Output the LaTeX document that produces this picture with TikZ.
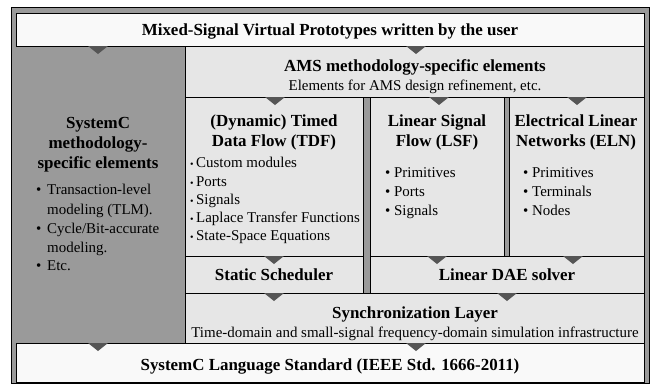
\documentclass[tikz,border=0pt]{standalone}
\usepackage{fontspec}
\setmainfont{Liberation Serif}
\definecolor{framegray}{HTML}{9A9A9A}
\definecolor{panel}{HTML}{E6E6E6}
\definecolor{paper}{HTML}{F9F9F9}
\definecolor{marker}{HTML}{555555}
\newcommand{\bigbold}{\fontsize{17}{20}\selectfont\bfseries}
\newcommand{\regtext}{\fontsize{15}{19}\selectfont}
\newcommand{\smallbul}{{\fontsize{10}{10}\selectfont\textbullet}\,}
\newcommand{\tridown}[2]{\fill[trimark] (#1-10,#2) -- (#1+10,#2) -- (#1,#2+8) -- cycle;}
\begin{document}
\begin{tikzpicture}[x=1bp,y=-1bp,
  box/.style={draw=black, line width=0.9bp, anchor=north west, inner sep=0pt, outer sep=0pt},
  ttl/.style={anchor=base, inner sep=0pt, font=\bigbold},
  txt/.style={anchor=base, inner sep=0pt, font=\regtext},
  lst/.style={anchor=base west, inner sep=0pt, font=\regtext},
  trimark/.style={fill=marker}]
\useasboundingbox (0,0) rectangle (652,384);
% panels
\node[box, fill=framegray, minimum width=638bp, minimum height=376bp] (frame) at (11,7) {};
\node[box, fill=paper, minimum width=628bp, minimum height=33bp] (top) at (16,13) {};
\node[box, fill=panel, minimum width=459bp, minimum height=51bp] (ams) at (185,46) {};
\node[box, fill=panel, minimum width=178bp, minimum height=159bp] (tdf) at (185,97) {};
\node[box, fill=panel, minimum width=134bp, minimum height=159bp] (lsf) at (370,97) {};
\node[box, fill=panel, minimum width=135bp, minimum height=159bp] (eln) at (509,97) {};
\node[box, fill=panel, minimum width=178bp, minimum height=37bp] (sched) at (185,256) {};
\node[box, fill=panel, minimum width=274bp, minimum height=37bp] (dae) at (370,256) {};
\node[box, fill=panel, minimum width=459bp, minimum height=50bp] (sync) at (185,293) {};
\node[box, fill=paper, minimum width=628bp, minimum height=39bp] (bottom) at (16,343) {};
% markers
\tridown{98}{46}
\tridown{416}{46}
\tridown{275}{97}
\tridown{439}{97}
\tridown{577}{97}
\tridown{274}{256}
\tridown{437}{256}
\tridown{573}{256}
\tridown{274}{293}
\tridown{507}{293}
\tridown{98}{343}
\tridown{416}{343}
% texts
\node[ttl] (ttop) at (330,35) {Mixed-Signal Virtual Prototypes written by the user};
\node[ttl] (tams) at (415,71) {AMS methodology-specific elements};
\node[txt] (sams) at (415,90) {Elements for AMS design refinement, etc.};
% left column
\node[ttl] (tl1) at (98,128) {SystemC};
\node[ttl] (tl2) at (98,148) {methodology-};
\node[ttl] (tl3) at (98,168) {specific elements};
\node[lst] (lb1) at (36,194) {\textbullet};
\node[lst] (lt1) at (47,194) {Transaction-level};
\node[lst] (lt2) at (47,214) {modeling (TLM).};
\node[lst] (lb2) at (36,233) {\textbullet};
\node[lst] (lt3) at (47,233) {Cycle/Bit-accurate};
\node[lst] (lt4) at (47,252) {modeling.};
\node[lst] (lb3) at (36,270) {\textbullet};
\node[lst] (lt5) at (47,270) {Etc.};
% TDF
\node[ttl] (tt1) at (274,126) {(Dynamic) Timed};
\node[ttl] (tt2) at (274,146) {Data Flow (TDF)};
\node[lst] (td1) at (190,167) {\smallbul Custom modules};
\node[lst] (td2) at (190,186) {\smallbul Ports};
\node[lst] (td3) at (190,204) {\smallbul Signals};
\node[lst] (td4) at (190,222) {\smallbul Laplace Transfer Functions};
\node[lst] (td5) at (190,240) {\smallbul State-Space Equations};
% LSF
\node[ttl] (ts1) at (437,126) {Linear Signal};
\node[ttl] (ts2) at (437,146) {Flow (LSF)};
\node[lst] (ls1) at (385,177) {\textbullet\ Primitives};
\node[lst] (ls2) at (385,196) {\textbullet\ Ports};
\node[lst] (ls3) at (385,215) {\textbullet\ Signals};
% ELN
\node[ttl] (te1) at (576,126) {Electrical Linear};
\node[ttl] (te2) at (576,146) {Networks (ELN)};
\node[lst] (le1) at (523,177) {\textbullet\ Primitives};
\node[lst] (le2) at (523,196) {\textbullet\ Terminals};
\node[lst] (le3) at (523,215) {\textbullet\ Nodes};
% lower layers
\node[ttl] (tsch) at (274,280) {Static Scheduler};
\node[ttl] (tdae) at (507,280) {Linear DAE solver};
\node[ttl] (tsync) at (415,318) {Synchronization Layer};
\node[txt] (ssync) at (415,337) {Time-domain and small-signal frequency-domain simulation infrastructure};
\node[ttl] (tbot) at (330,370) {SystemC Language Standard (IEEE Std. 1666-2011)};
\end{tikzpicture}
\end{document}
